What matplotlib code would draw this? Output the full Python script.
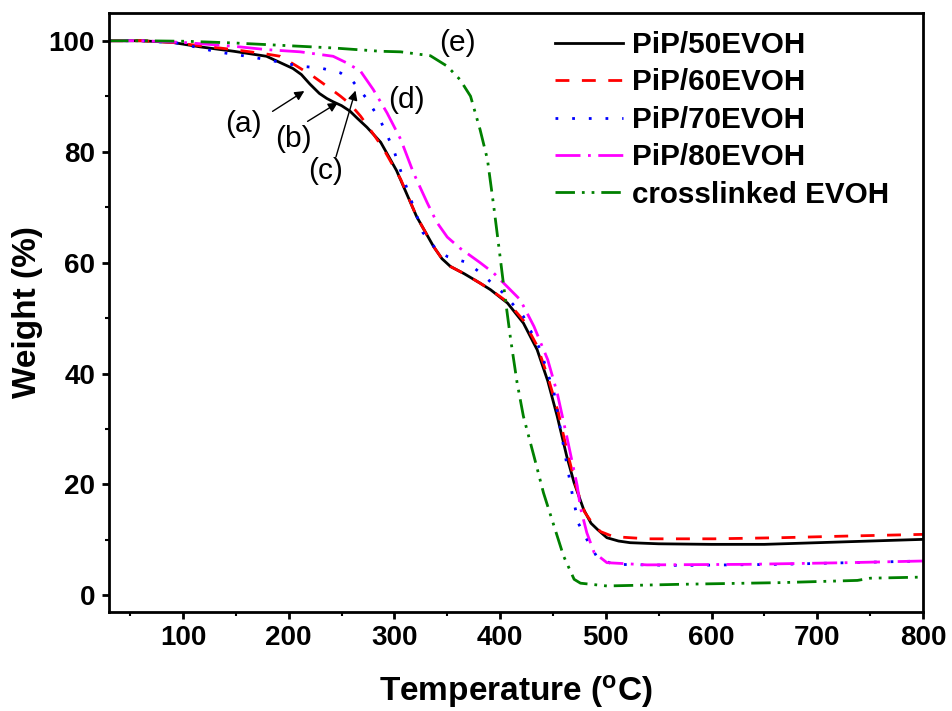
# TGA curves of PiP/EVOH membranes vs crosslinked EVOH
import matplotlib
matplotlib.use('Agg')
import matplotlib.pyplot as plt
from matplotlib.ticker import MultipleLocator

plt.rcParams['font.family'] = ['Liberation Sans', 'DejaVu Sans']
plt.rcParams['font.weight'] = 'bold'

# Datos (temperatura en C, peso en %)
t_50 = [30, 60, 90, 116, 148, 179, 204, 212, 220, 229, 236, 242, 250, 258, 265, 274, 287, 302,
        321, 337, 345, 353, 366, 381, 391, 407, 422, 435, 445, 454, 463, 470, 479, 486, 492,
        501, 512, 523, 550, 600, 650, 700, 750, 800]
w_50 = [100, 100, 99.7, 98.9, 98.1, 97.2, 95.0, 93.9, 92.2, 90.5, 89.6, 89.0, 88.3, 87.3, 86.0,
        84.4, 81.7, 76.6, 68.3, 62.9, 60.7, 59.3, 58.0, 56.3, 55.1, 52.7, 49.1, 44.3, 38.7,
        32.3, 25.1, 20.3, 15.5, 13.0, 11.9, 10.4, 9.8, 9.5, 9.3, 9.2, 9.2, 9.5, 9.8, 10.1]

t_60 = [30, 60, 90, 116, 148, 179, 192, 207, 223, 242, 249, 258, 268, 280, 290, 306, 321, 337,
        345, 353, 366, 381, 391, 407, 422, 435, 445, 455, 464, 472, 480, 488, 495, 507, 539,
        602, 665, 729, 800]
w_60 = [100, 100, 99.7, 99.1, 98.4, 97.6, 97.2, 95.5, 93.6, 91.0, 90.0, 88.6, 86.4, 83.2, 80.4,
        75.0, 68.3, 62.9, 60.7, 59.3, 58.0, 56.3, 55.1, 52.9, 49.6, 45.0, 39.5, 33.0, 25.5,
        19.5, 15.0, 12.8, 11.5, 10.6, 10.2, 10.2, 10.4, 10.7, 11.0]

t_70 = [30, 60, 94, 116, 132, 157, 179, 211, 230, 249, 261, 274, 287, 299, 306, 318, 327, 340,
        350, 369, 381, 403, 422, 438, 451, 460, 468, 474, 482, 492, 507, 570, 665, 730, 800]
w_70 = [100, 100, 99.6, 98.7, 98.0, 97.3, 96.6, 95.4, 95.1, 94.2, 92.6, 89.5, 85.5, 80.5, 76.5,
        70.1, 65.4, 62.3, 61.1, 60.0, 58.2, 54.5, 50.3, 44.3, 36.5, 26.9, 18.5, 13.0, 10.1,
        6.8, 5.6, 5.4, 5.6, 5.9, 6.2]

t_80 = [30, 60, 100, 148, 179, 211, 242, 255, 268, 280, 293, 306, 318, 331, 340, 350, 362, 381,
        394, 419, 432, 445, 454, 463, 473, 476, 482, 489, 501, 539, 634, 729, 800]
w_80 = [100, 100, 99.7, 99.0, 98.4, 98.0, 97.2, 96.0, 94.5, 91.2, 87.0, 82.2, 76.2, 70.8, 67.3,
        64.6, 62.6, 60.0, 58.1, 53.3, 48.5, 42.5, 36.5, 28.7, 19.7, 15.8, 11.3, 7.7, 5.9, 5.5,
        5.6, 5.9, 6.2]

t_cl = [30, 60, 104, 148, 211, 242, 287, 306, 334, 350, 362, 372, 381, 388, 394, 400, 405, 410,
        416, 422, 432, 441, 451, 460, 470, 476, 501, 571, 665, 738, 750, 800]
w_cl = [100, 100, 99.9, 99.6, 99.0, 98.7, 98.1, 98.0, 97.3, 95.4, 93.0, 90.0, 84.0, 78.6, 70.1,
        61.0, 53.3, 46.1, 38.4, 32.3, 25.1, 18.5, 12.5, 7.1, 2.9, 2.2, 1.7, 2.0, 2.3, 2.7, 3.1,
        3.3]

etiquetas = ['PiP/50EVOH', 'PiP/60EVOH', 'PiP/70EVOH', 'PiP/80EVOH', 'crosslinked EVOH']

fig = plt.figure(figsize=(9.52, 7.11), dpi=100)
ax = fig.add_axes([0.1145, 0.1392, 0.855, 0.8425])

lw = 2.0
ax.plot(t_50, w_50, color='black', lw=lw, label=etiquetas[0])
ax.plot(t_60, w_60, color='red', lw=lw, dashes=(5, 4.5), label=etiquetas[1])
ax.plot(t_70, w_70, color='blue', lw=lw, dashes=(1, 5), label=etiquetas[2])
ax.plot(t_80, w_80, color='magenta', lw=lw, dashes=(9, 2.7, 1, 2.7), label=etiquetas[3])
ax.plot(t_cl, w_cl, color='green', lw=lw, dashes=(7, 2.5, 1, 2.5, 1, 2.5), label=etiquetas[4])

ax.set_xlim(30, 800)
ax.set_ylim(-3, 105)
ax.xaxis.set_major_locator(MultipleLocator(100))
ax.xaxis.set_minor_locator(MultipleLocator(50))
ax.yaxis.set_major_locator(MultipleLocator(20))
ax.yaxis.set_minor_locator(MultipleLocator(10))
ax.set_xticks([100, 200, 300, 400, 500, 600, 700, 800])

for s in ax.spines.values():
    s.set_linewidth(2)
ax.tick_params(which='major', direction='out', length=5, width=2, labelsize=20, pad=4)
ax.tick_params(which='minor', direction='out', length=3, width=1.5)
ax.tick_params(axis='y', which='major', pad=5)
for lab in ax.get_xticklabels() + ax.get_yticklabels():
    lab.set_fontweight('bold')

ax.set_xlabel(r'Temperature ($\mathregular{^o}$C)', fontsize=24, fontweight='bold')
ax.set_ylabel('Weight (%)', fontsize=24, fontweight='bold')
ax.xaxis.set_label_coords(0.5, -0.102)
ax.yaxis.set_label_coords(-0.081, 0.5)

# Flechas y etiquetas (a)-(e)
flecha = dict(arrowstyle='-|>', lw=1, color='black', mutation_scale=14)
ax.annotate('', xy=(217, 91.2), xytext=(182.5, 87.0), arrowprops=flecha)
ax.annotate('', xy=(248.7, 89.1), xytext=(215.6, 85.2), arrowprops=flecha)
ax.annotate('', xy=(263.9, 91.5), xytext=(244, 78.6), arrowprops=flecha)
txt = dict(fontsize=21.5, fontweight='normal', ha='center', va='center')
ax.text(157, 84.9, '(a)', **txt)
ax.text(204, 82.2, '(b)', **txt)
ax.text(234.5, 76.5, '(c)', **txt)
ax.text(311.8, 89.4, '(d)', **txt)
ax.text(359.3, 99.6, '(e)', **txt)

ax.legend(loc='upper left', bbox_to_anchor=(0.548, 0.970), frameon=False,
          prop={'size': 21.3, 'weight': 'bold'}, handlelength=2.3, handletextpad=0.3,
          labelspacing=0.32, borderpad=0, borderaxespad=0)

fig.savefig('out.png', dpi=100)
